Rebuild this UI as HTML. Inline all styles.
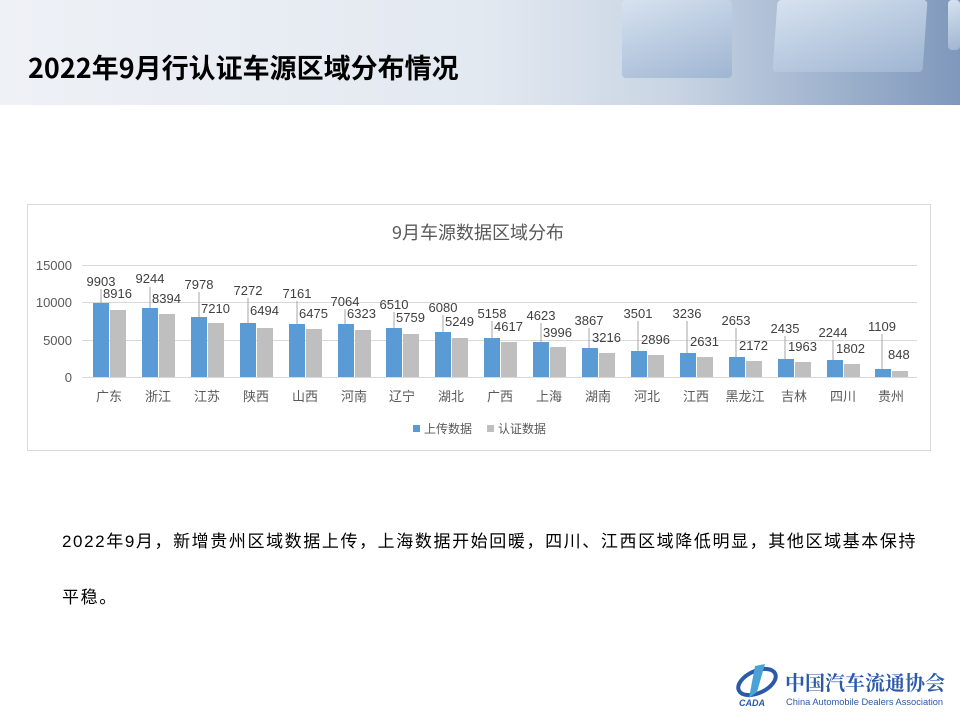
<!DOCTYPE html>
<html><head><meta charset="utf-8"><style>
body{margin:0;width:960px;height:720px;overflow:hidden;background:#fff;font-family:"Liberation Sans","Noto Sans CJK SC",sans-serif;}
.hdr{position:absolute;left:0;top:0;width:960px;height:105px;background:linear-gradient(90deg,#eef1f6 0%,#e3e9f1 50%,#c9d5e4 70%,#7f98bb 100%);}
.title{position:absolute;left:28px;top:47px;font-size:27px;font-weight:bold;color:#000;font-family:"Noto Sans CJK SC",sans-serif;}
.cube{position:absolute;background:linear-gradient(160deg,#d6e2ef,#9fb5d2);border-radius:4px}
.txt{position:absolute;left:62px;font-size:17px;letter-spacing:1.6px;color:#000;font-family:"Liberation Sans","Noto Sans CJK SC",sans-serif;white-space:nowrap}
</style></head><body>
<div class="hdr"></div>
<div class="cube" style="left:622px;top:0;width:110px;height:78px"></div>
<div class="cube" style="left:775px;top:0;width:150px;height:72px;transform:skewX(-4deg)"></div>
<div class="cube" style="left:948px;top:0;width:12px;height:50px"></div>
<div class="title">2022年9月行认证车源区域分布情况</div>
<svg style="position:absolute;left:0;top:0" width="960" height="720" font-family="Liberation Sans,Noto Sans CJK SC,sans-serif">
<rect x="27.5" y="204.5" width="903" height="246" fill="#fff" stroke="#d9d9d9"/>
<text x="478" y="239" font-size="18" fill="#595959" text-anchor="middle" font-family="Noto Sans CJK SC,sans-serif">9月车源数据区域分布</text>
<g stroke="#d9d9d9" stroke-width="1">
<line x1="82" y1="265.5" x2="917" y2="265.5"/><line x1="82" y1="302.5" x2="917" y2="302.5"/><line x1="82" y1="340.5" x2="917" y2="340.5"/><line x1="82" y1="377.5" x2="917" y2="377.5"/>
</g>
<g font-size="13" fill="#595959" text-anchor="end">
<text x="72" y="270">15000</text><text x="72" y="307">10000</text><text x="72" y="345">5000</text><text x="72" y="382">0</text>
</g>
<g fill="#5b9bd5">
<rect x="93" y="303" width="16" height="74"/><rect x="142" y="308" width="16" height="69"/><rect x="191" y="317" width="16" height="60"/><rect x="240" y="323" width="16" height="54"/><rect x="289" y="324" width="16" height="53"/><rect x="338" y="324" width="16" height="53"/><rect x="386" y="328" width="16" height="49"/><rect x="435" y="332" width="16" height="45"/><rect x="484" y="338" width="16" height="39"/><rect x="533" y="342" width="16" height="35"/><rect x="582" y="348" width="16" height="29"/><rect x="631" y="351" width="16" height="26"/><rect x="680" y="353" width="16" height="24"/><rect x="729" y="357" width="16" height="20"/><rect x="778" y="359" width="16" height="18"/><rect x="827" y="360" width="16" height="17"/><rect x="875" y="369" width="16" height="8"/>
</g>
<g fill="#bfbfbf">
<rect x="110" y="310" width="16" height="67"/><rect x="159" y="314" width="16" height="63"/><rect x="208" y="323" width="16" height="54"/><rect x="257" y="328" width="16" height="49"/><rect x="306" y="329" width="16" height="48"/><rect x="355" y="330" width="16" height="47"/><rect x="403" y="334" width="16" height="43"/><rect x="452" y="338" width="16" height="39"/><rect x="501" y="342" width="16" height="35"/><rect x="550" y="347" width="16" height="30"/><rect x="599" y="353" width="16" height="24"/><rect x="648" y="355" width="16" height="22"/><rect x="697" y="357" width="16" height="20"/><rect x="746" y="361" width="16" height="16"/><rect x="795" y="362" width="16" height="15"/><rect x="844" y="364" width="16" height="13"/><rect x="892" y="371" width="16" height="6"/>
</g>
<g stroke="#a6a6a6" stroke-width="1">
<line x1="101" y1="289" x2="101" y2="303"/><line x1="150" y1="287" x2="150" y2="308"/><line x1="199" y1="292" x2="199" y2="317"/><line x1="248" y1="298" x2="248" y2="323"/><line x1="297" y1="301" x2="297" y2="324"/><line x1="345" y1="309" x2="345" y2="324"/><line x1="394" y1="312" x2="394" y2="328"/><line x1="443" y1="315" x2="443" y2="332"/><line x1="492" y1="321" x2="492" y2="338"/><line x1="541" y1="323" x2="541" y2="342"/><line x1="589" y1="328" x2="589" y2="348"/><line x1="638" y1="321" x2="638" y2="351"/><line x1="687" y1="321" x2="687" y2="353"/><line x1="736" y1="328" x2="736" y2="357"/><line x1="785" y1="336" x2="785" y2="359"/><line x1="833" y1="340" x2="833" y2="360"/><line x1="882" y1="334" x2="882" y2="369"/>
</g>
<g font-size="13" fill="#404040" text-anchor="middle">
<text x="101" y="286">9903</text><text x="150" y="283">9244</text><text x="199" y="289">7978</text><text x="248" y="295">7272</text><text x="297" y="298">7161</text><text x="345" y="306">7064</text><text x="394" y="309">6510</text><text x="443" y="312">6080</text><text x="492" y="318">5158</text><text x="541" y="320">4623</text><text x="589" y="325">3867</text><text x="638" y="318">3501</text><text x="687" y="318">3236</text><text x="736" y="325">2653</text><text x="785" y="333">2435</text><text x="833" y="337">2244</text><text x="882" y="331">1109</text>
</g>
<g font-size="13" fill="#404040">
<text x="103" y="298">8916</text><text x="152" y="303">8394</text><text x="201" y="313">7210</text><text x="250" y="315">6494</text><text x="299" y="318">6475</text><text x="347" y="318">6323</text><text x="396" y="322">5759</text><text x="445" y="326">5249</text><text x="494" y="331">4617</text><text x="543" y="337">3996</text><text x="592" y="342">3216</text><text x="641" y="344">2896</text><text x="690" y="346">2631</text><text x="739" y="350">2172</text><text x="788" y="351">1963</text><text x="836" y="353">1802</text><text x="888" y="359">848</text>
</g>
<g font-size="13" fill="#595959" text-anchor="middle" font-family="Noto Sans CJK SC,sans-serif">
<text x="109" y="401">广东</text><text x="158" y="401">浙江</text><text x="207" y="401">江苏</text><text x="256" y="401">陕西</text><text x="305" y="401">山西</text><text x="354" y="401">河南</text><text x="402" y="401">辽宁</text><text x="451" y="401">湖北</text><text x="500" y="401">广西</text><text x="549" y="401">上海</text><text x="598" y="401">湖南</text><text x="647" y="401">河北</text><text x="696" y="401">江西</text><text x="745" y="401">黑龙江</text><text x="794" y="401">吉林</text><text x="843" y="401">四川</text><text x="891" y="401">贵州</text>
</g>
<rect x="413" y="425" width="7" height="7" fill="#5b9bd5"/>
<text x="424" y="433" font-size="12" fill="#595959" font-family="Noto Sans CJK SC,sans-serif">上传数据</text>
<rect x="487" y="425" width="7" height="7" fill="#bfbfbf"/>
<text x="498" y="433" font-size="12" fill="#595959" font-family="Noto Sans CJK SC,sans-serif">认证数据</text>
<g transform="translate(735,662)">
<ellipse cx="22" cy="20" rx="20" ry="11" fill="none" stroke="#2b5aa8" stroke-width="4" transform="rotate(-25 22 20)"/>
<path d="M20 4 L30 2 L22 30 L14 36 Z" fill="#49a3d9"/>
<text x="4" y="44" font-size="9" font-weight="bold" font-style="italic" fill="#2b5aa8">CADA</text>
</g>
<text x="785" y="690" font-size="20" fill="#2b5aa8" font-weight="bold" font-family="Noto Serif CJK SC,serif">中国汽车流通协会</text>
<text x="786" y="705" font-size="9.3" fill="#2b5aa8">China Automobile Dealers Association</text>
</svg>
<div class="txt" style="top:527px">2022年9月，新增贵州区域数据上传，上海数据开始回暖，四川、江西区域降低明显，其他区域基本保持</div>
<div class="txt" style="top:583px">平稳。</div>
</body></html>
